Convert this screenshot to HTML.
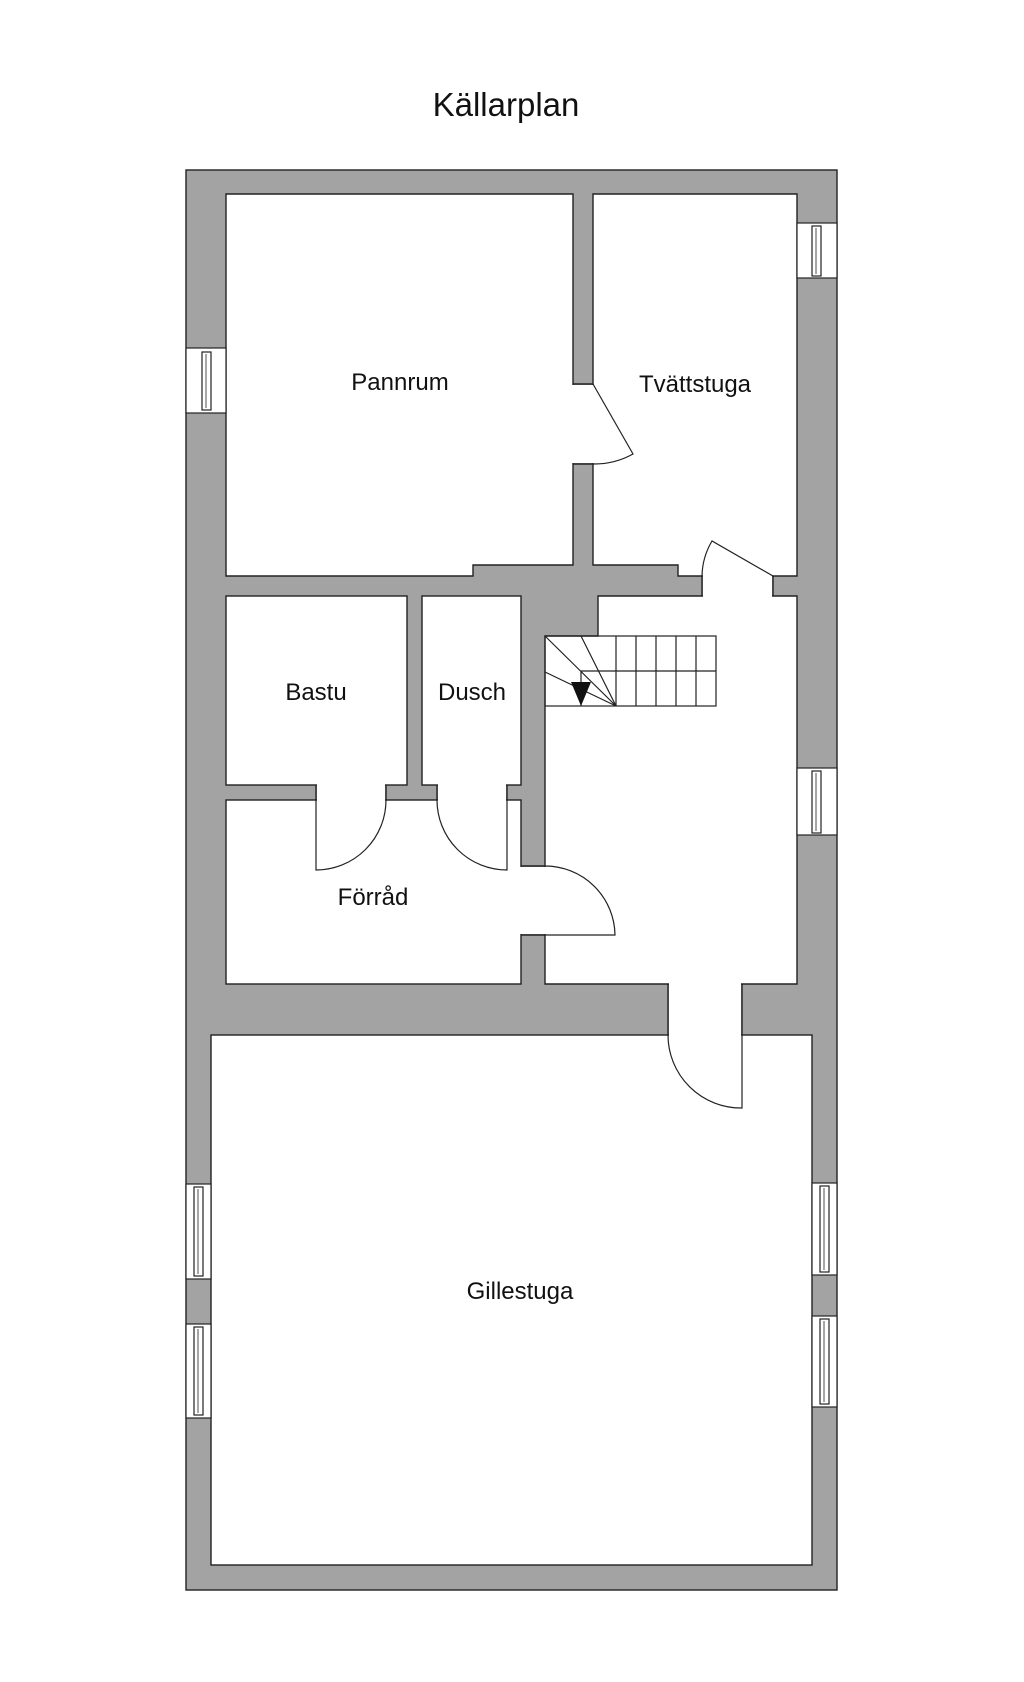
<!DOCTYPE html>
<html><head><meta charset="utf-8"><style>
html,body{margin:0;padding:0;background:#fff;}
svg{display:block;}
text{font-family:"Liberation Sans","DejaVu Sans",sans-serif;fill:#111;}
</style></head><body>
<svg width="1024" height="1682" viewBox="0 0 1024 1682" xmlns="http://www.w3.org/2000/svg">
<text x="506" y="116" font-size="33" text-anchor="middle">Källarplan</text>
<g stroke="#222" stroke-width="1.4" fill="#fff">
<rect x="186" y="170" width="651" height="1420" fill="#a3a3a3"/>
<polygon points="226,194 573,194 573,565 473,565 473,576 226,576"/>
<polygon points="593,194 797,194 797,576 678,576 678,565 593,565"/>
<polygon points="598,596 797,596 797,984 545,984 545,636 598,636"/>
<rect x="226" y="596" width="181" height="189"/>
<rect x="422" y="596" width="99" height="189"/>
<rect x="226" y="800" width="295" height="184"/>
<rect x="211" y="1035" width="601" height="530"/>
</g>
<g fill="#fff" stroke="none">
<rect x="572" y="385" width="22" height="78"/>
<rect x="703" y="575" width="69" height="22"/>
<rect x="317" y="784" width="68" height="17"/>
<rect x="438" y="784" width="68" height="17"/>
<rect x="520" y="867" width="26" height="67"/>
<rect x="669" y="983" width="72" height="53"/>
</g>
<g stroke="#222" stroke-width="1.4" fill="none">
<path d="M573,384H593M573,464H593"/>
<path d="M702,576V596M773,576V596"/>
<path d="M316,785V800M386,785V800M437,785V800M507,785V800"/>
<path d="M521,866H545M521,935H545"/>
<path d="M668,984V1035M742,984V1035"/>
</g>
<g stroke="#222" stroke-width="1.2" fill="none">
<path d="M593,384L633,454A80,80 0 0 1 593,464"/>
<path d="M773,576L712,541A71,71 0 0 0 702,576"/>
<path d="M316,800V870A70,70 0 0 0 386,800"/>
<path d="M507,800V870A70,70 0 0 1 437,800"/>
<path d="M545,935H615A70,70 0 0 0 545,866"/>
<path d="M742,1035V1108A73,73 0 0 1 668,1035"/>
</g>
<g stroke="#222" stroke-width="1.2" fill="#fff">
<rect x="186" y="348" width="40" height="65"/><rect x="202" y="352" width="9" height="58"/>
<rect x="797" y="223" width="40" height="55"/><rect x="812" y="226" width="9" height="50"/>
<rect x="797" y="768" width="40" height="67"/><rect x="812" y="771" width="9" height="62"/>
<rect x="186" y="1184" width="25" height="95"/><rect x="194" y="1187" width="9" height="89"/>
<rect x="186" y="1324" width="25" height="94"/><rect x="194" y="1327" width="9" height="88"/>
<rect x="812" y="1183" width="25" height="92"/><rect x="820" y="1186" width="9" height="86"/>
<rect x="812" y="1316" width="25" height="91"/><rect x="820" y="1319" width="9" height="85"/>
</g>
<g stroke="#222" stroke-width="0.8" fill="none">
<path d="M206,354V408M816,228V274M816,773V831M198,1189V1274M198,1329V1413M824,1188V1270M824,1321V1402"/>
</g>
<g stroke="#222" stroke-width="1.2" fill="none">
<rect x="545" y="636" width="171" height="70"/>
<path d="M581,671H716M616,636V706M636,636V706M656,636V706M676,636V706M696,636V706"/>
<path d="M545,636L616,706M581,636L616,706M545,672L616,706M581,671V706"/>
</g>
<polygon points="571,682 591,682 581,706" fill="#111"/>
<g font-size="24" text-anchor="middle">
<text x="400" y="390">Pannrum</text>
<text x="695" y="392">Tvättstuga</text>
<text x="316" y="700">Bastu</text>
<text x="472" y="700">Dusch</text>
<text x="373" y="905">Förråd</text>
<text x="520" y="1299">Gillestuga</text>
</g>
</svg>
</body></html>
